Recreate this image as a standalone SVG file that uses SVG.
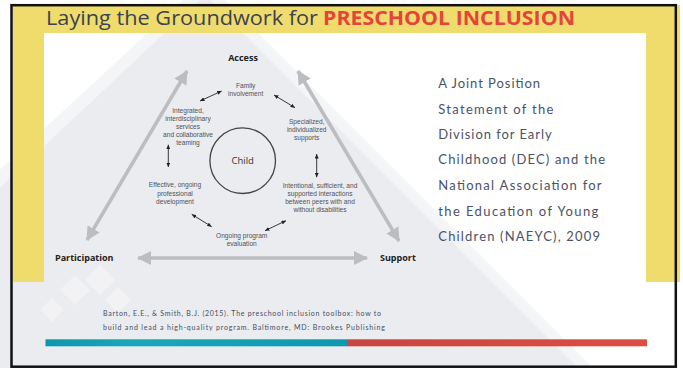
<svg xmlns="http://www.w3.org/2000/svg" width="683" height="368" viewBox="0 0 683 368">
<defs>
<style>
.lbl{font-family:"Liberation Sans",Arial,sans-serif;font-size:6.6px;fill:#4e5358;text-anchor:middle}
.pole{font-family:"Open Sans","Liberation Sans",sans-serif;font-size:9px;font-weight:bold;fill:#222}
.big{stroke:#bcbdc1;stroke-width:3.5;fill:none}
.sm{stroke:#222;stroke-width:0.9;fill:none}
.side{font-family:"Lato","Open Sans",sans-serif;font-size:13px;fill:#4b5266}
.cite{font-family:"Lato","Open Sans",sans-serif;font-size:7px;fill:#454c5c}
</style>
<marker id="bh" markerUnits="userSpaceOnUse" markerWidth="14" markerHeight="14" refX="13" refY="7" orient="auto-start-reverse"><path d="M0,0 L14,7 L0,14 z" fill="#bcbdc1"/></marker>
<marker id="sh" markerUnits="userSpaceOnUse" markerWidth="4.5" markerHeight="4" refX="4.5" refY="2" orient="auto-start-reverse"><path d="M0,0 L4.5,2 L0,4 z" fill="#222"/></marker>
<linearGradient id="tg" x1="0" x2="1"><stop offset="0" stop-color="#0e96ad"/><stop offset="0.3" stop-color="#1aa7bb"/><stop offset="1" stop-color="#0c98ae"/></linearGradient>
<linearGradient id="rg" x1="0" x2="1"><stop offset="0" stop-color="#c9453f"/><stop offset="1" stop-color="#de4d42"/></linearGradient>
</defs>
<rect width="683" height="368" fill="#ffffff"/>
<g id="background">
<polygon points="205,-20 593,368 -215,368" fill="#f4f5f7"/>
<polygon points="205,-5 578,368 -192,368" fill="#ebecf0"/>
<g fill="#ffffff" opacity="0.35">
<polygon points="60,290 75,275 90,290 75,305"/>
<polygon points="85,280 100,265 115,280 100,295"/>
<polygon points="105,300 118,287 131,300 118,313"/>
<polygon points="40,310 52,298 64,310 52,322"/>
</g>
<path d="M13,6 H676 V282 H646 V33 H44 V282 H13 Z" fill="#f0dc6c"/>
<rect x="677" y="5" width="3" height="277" fill="#f0dc6c"/>
<rect x="11.5" y="5.2" width="664.3" height="361.5" fill="none" stroke="#111" stroke-width="2.5"/>
</g>
<g id="title">
<text x="46" y="25" font-family="'Open Sans','Liberation Sans',sans-serif" font-size="20" fill="#3b4252" textLength="272" lengthAdjust="spacingAndGlyphs">Laying the Groundwork for</text>
<text x="323" y="25" font-family="'Open Sans','Liberation Sans',sans-serif" font-size="20" font-weight="bold" fill="#e3443b" textLength="252" lengthAdjust="spacingAndGlyphs">PRESCHOOL INCLUSION</text>
</g>
<g id="connectors">
<line class="big" x1="187" y1="71" x2="87" y2="240" marker-start="url(#bh)" marker-end="url(#bh)"/>
<line class="big" x1="298" y1="71" x2="399" y2="241" marker-start="url(#bh)" marker-end="url(#bh)"/>
<line class="big" x1="138" y1="258" x2="367" y2="258" marker-start="url(#bh)" marker-end="url(#bh)"/>
<line class="sm" x1="200" y1="101" x2="221.7" y2="91" marker-start="url(#sh)" marker-end="url(#sh)"/>
<line class="sm" x1="274" y1="95" x2="295" y2="107.7" marker-start="url(#sh)" marker-end="url(#sh)"/>
<line class="sm" x1="316.7" y1="154" x2="316.7" y2="177.3" marker-start="url(#sh)" marker-end="url(#sh)"/>
<line class="sm" x1="286" y1="220.7" x2="265" y2="230.7" marker-start="url(#sh)" marker-end="url(#sh)"/>
<line class="sm" x1="191.7" y1="214.3" x2="211.7" y2="226.7" marker-start="url(#sh)" marker-end="url(#sh)"/>
<line class="sm" x1="168.3" y1="144.7" x2="168.3" y2="167" marker-start="url(#sh)" marker-end="url(#sh)"/>
</g>
<g id="access"><text class="pole" x="243" y="60.5" text-anchor="middle">Access</text></g>
<g id="participation"><text class="pole" x="55" y="261">Participation</text></g>
<g id="support"><text class="pole" x="380" y="261">Support</text></g>
<g id="child">
<circle cx="242.7" cy="160.7" r="32.8" fill="none" stroke="#444" stroke-width="1.3"/>
<text x="242.7" y="164" text-anchor="middle" font-family="'Open Sans','Liberation Sans',sans-serif" font-size="9.5" fill="#333">Child</text>
</g>
<g id="family"><text class="lbl" x="245.7" y="88.2">Family</text><text class="lbl" x="245.7" y="96.2">involvement</text></g>
<g id="specialized"><text class="lbl" x="306.7" y="123.9">Specialized,</text><text class="lbl" x="306.7" y="131.9">individualized</text><text class="lbl" x="306.7" y="139.9">supports</text></g>
<g id="integrated"><text class="lbl" x="188" y="112.9">Integrated,</text><text class="lbl" x="188" y="120.9">interdisciplinary</text><text class="lbl" x="188" y="128.9">services</text><text class="lbl" x="188" y="136.9">and collaborative</text><text class="lbl" x="188" y="144.9">teaming</text></g>
<g id="effective"><text class="lbl" x="175" y="187.2">Effective, ongoing</text><text class="lbl" x="175" y="195.7">professional</text><text class="lbl" x="175" y="204.2">development</text></g>
<g id="evaluation"><text class="lbl" x="241.7" y="237.9">Ongoing program</text><text class="lbl" x="241.7" y="245.9">evaluation</text></g>
<g id="intentional"><text class="lbl" x="320" y="187.5">Intentional, sufficient, and</text><text class="lbl" x="320" y="195.7">supported interactions</text><text class="lbl" x="320" y="203.9">between peers with and</text><text class="lbl" x="320" y="211.9">without disabilities</text></g>
<g id="statement">
<text class="side" x="438.3" y="88" textLength="101.7" lengthAdjust="spacing">A Joint Position</text>
<text class="side" x="438.3" y="114" textLength="115" lengthAdjust="spacing">Statement of the</text>
<text class="side" x="438.3" y="139" textLength="113.3" lengthAdjust="spacing">Division for Early</text>
<text class="side" x="438.3" y="164.3" textLength="166.7" lengthAdjust="spacing">Childhood (DEC) and the</text>
<text class="side" x="438.3" y="190" textLength="163.3" lengthAdjust="spacing">National Association for</text>
<text class="side" x="438.3" y="216" textLength="160" lengthAdjust="spacing">the Education of Young</text>
<text class="side" x="438.3" y="241" textLength="161.7" lengthAdjust="spacing">Children (NAEYC), 2009</text>
</g>
<g id="citation">
<text class="cite" x="103" y="316.3" textLength="278" lengthAdjust="spacing">Barton, E.E., &amp; Smith, B.J. (2015). The preschool inclusion toolbox: how to</text>
<text class="cite" x="103" y="329.5" textLength="282" lengthAdjust="spacing">build and lead a high-quality program. Baltimore, MD: Brookes Publishing</text>
</g>
<g id="bar">
<rect x="45.5" y="339.3" width="301.5" height="7" fill="url(#tg)"/>
<rect x="347" y="339.3" width="300" height="7" fill="url(#rg)"/>
</g>
</svg>
